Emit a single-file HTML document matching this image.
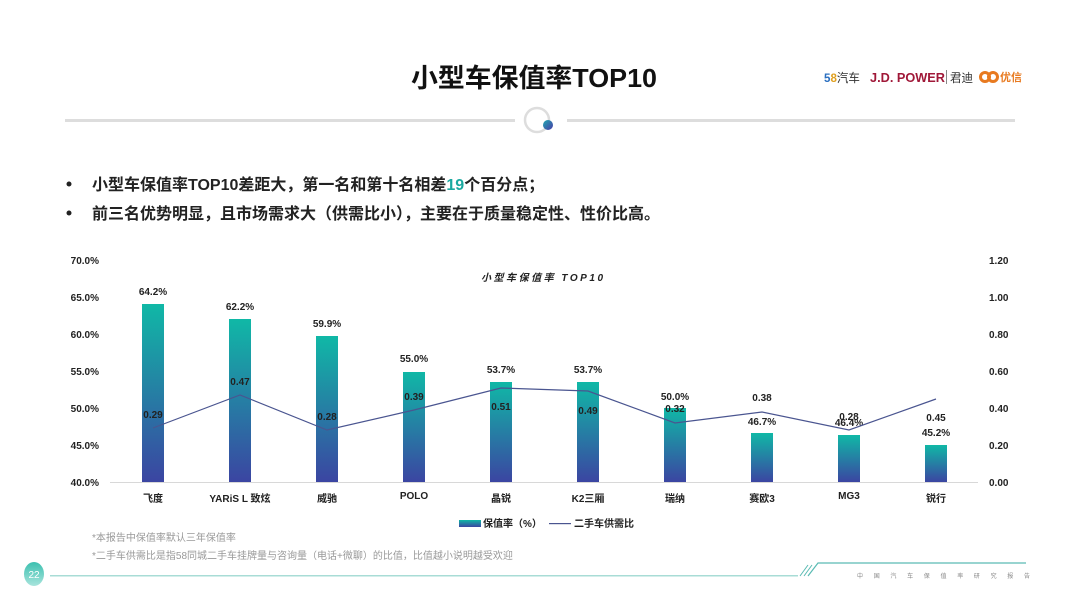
<!DOCTYPE html>
<html><head><meta charset="utf-8">
<style>
html,body{margin:0;padding:0;background:#fff;}
body{width:1080px;height:607px;overflow:hidden;position:relative;font-family:"Liberation Sans","Noto Sans CJK SC",sans-serif;}
</style></head><body>
<svg width="1080" height="607" viewBox="0 0 1080 607" xmlns="http://www.w3.org/2000/svg" style="position:absolute;left:0;top:0" font-family="Liberation Sans, Noto Sans CJK SC, sans-serif">
<defs>
<linearGradient id="bg" x1="0" y1="0" x2="0" y2="1">
<stop offset="0" stop-color="#10b8a6"/><stop offset="1" stop-color="#3b45a2"/>
</linearGradient>
<linearGradient id="dot" x1="0" y1="0" x2="1" y2="1">
<stop offset="0" stop-color="#1fa8b0"/><stop offset="1" stop-color="#4a3aa8"/>
</linearGradient>
<linearGradient id="pg" x1="0" y1="0" x2="0" y2="1">
<stop offset="0" stop-color="#3cc0b0"/><stop offset="1" stop-color="#a8e4dc"/>
</linearGradient>
</defs>
<text x="534" y="87" text-anchor="middle" font-size="26" font-weight="bold" fill="#111" textLength="246" lengthAdjust="spacingAndGlyphs">小型车保值率TOP10</text>
<text x="824" y="82" font-size="12" font-weight="bold" fill="#2a6fc0" textLength="36" lengthAdjust="spacingAndGlyphs">5<tspan fill="#e0a020">8</tspan><tspan fill="#333" font-weight="normal">汽车</tspan></text>
<text x="870" y="82" font-size="13" font-weight="bold" fill="#a01838" textLength="75" lengthAdjust="spacingAndGlyphs">J.D. POWER</text>
<rect x="946" y="70" width="1" height="14" fill="#888"/>
<text x="950" y="82" font-size="12" fill="#333" textLength="23" lengthAdjust="spacingAndGlyphs">君迪</text>
<circle cx="985" cy="77" r="4.5" fill="none" stroke="#e87a20" stroke-width="3"/>
<circle cx="993" cy="77" r="4.5" fill="none" stroke="#e87a20" stroke-width="3"/>
<text x="1000" y="81" font-size="11" font-weight="bold" fill="#e87a20">优信</text>
<rect x="65" y="119" width="450" height="3" fill="#ddd"/>
<rect x="567" y="119" width="448" height="3" fill="#ddd"/>
<circle cx="537" cy="120" r="12" fill="none" stroke="#ddd" stroke-width="2.5"/>
<circle cx="548" cy="125" r="5" fill="url(#dot)"/>
<circle cx="69" cy="184" r="2.5" fill="#222"/>
<circle cx="69" cy="213" r="2.5" fill="#222"/>
<text x="92" y="190" font-size="16" font-weight="bold" fill="#222">小型车保值率TOP10差距大，第一名和第十名相差<tspan fill="#1aa9a0">19</tspan>个百分点；</text>
<text x="92" y="219" font-size="16" font-weight="bold" fill="#222">前三名优势明显，且市场需求大（供需比小），主要在于质量稳定性、性价比高。</text>
<text x="481" y="281" font-size="10" font-weight="bold" font-style="italic" fill="#222" textLength="122" lengthAdjust="spacing">小型车保值率 TOP10</text>
<g font-size="10" font-weight="bold" fill="#222" text-anchor="end">
<text x="99" y="264">70.0%</text><text x="99" y="301">65.0%</text><text x="99" y="338">60.0%</text>
<text x="99" y="375">55.0%</text><text x="99" y="412">50.0%</text><text x="99" y="449">45.0%</text><text x="99" y="486">40.0%</text>
</g>
<g font-size="10" font-weight="bold" fill="#222">
<text x="989" y="264">1.20</text><text x="989" y="301">1.00</text><text x="989" y="338">0.80</text>
<text x="989" y="375">0.60</text><text x="989" y="412">0.40</text><text x="989" y="449">0.20</text><text x="989" y="486">0.00</text>
</g>
<rect x="110" y="482" width="868" height="1" fill="#d8d8d8"/>
<g fill="url(#bg)">
<rect x="142" y="304" width="22" height="178"/>
<rect x="229" y="319" width="22" height="163"/>
<rect x="316" y="336" width="22" height="146"/>
<rect x="403" y="372" width="22" height="110"/>
<rect x="490" y="382" width="22" height="100"/>
<rect x="577" y="382" width="22" height="100"/>
<rect x="664" y="408" width="22" height="74"/>
<rect x="751" y="433" width="22" height="49"/>
<rect x="838" y="435" width="22" height="47"/>
<rect x="925" y="445" width="22" height="37"/>
</g>
<g font-size="10" font-weight="bold" fill="#222" text-anchor="middle">
<text x="153" y="295">64.2%</text><text x="240" y="310">62.2%</text><text x="327" y="327">59.9%</text>
<text x="414" y="362">55.0%</text><text x="501" y="373">53.7%</text><text x="588" y="373">53.7%</text>
<text x="675" y="400">50.0%</text><text x="762" y="425">46.7%</text><text x="849" y="426">46.4%</text><text x="936" y="436">45.2%</text>
</g>
<polyline fill="none" stroke="#4a5590" stroke-width="1.2" points="153,428 240,395 327,430 414,410 501,388 588,391 675,423 762,412 849,430 936,399"/>
<g font-size="10" font-weight="bold" fill="#222" text-anchor="middle">
<text x="153" y="418">0.29</text><text x="240" y="385">0.47</text><text x="327" y="420">0.28</text>
<text x="414" y="400">0.39</text><text x="501" y="410">0.51</text><text x="588" y="414">0.49</text>
<text x="675" y="412">0.32</text><text x="762" y="401">0.38</text><text x="849" y="420">0.28</text><text x="936" y="421">0.45</text>
</g>
<g font-size="10" font-weight="bold" fill="#222" text-anchor="middle">
<text x="153" y="502">飞度</text><text x="240" y="502">YARiS L 致炫</text><text x="327" y="502">威驰</text>
<text x="414" y="499">POLO</text><text x="501" y="502">晶锐</text><text x="588" y="502">K2三厢</text>
<text x="675" y="502">瑞纳</text><text x="762" y="502">赛欧3</text><text x="849" y="499">MG3</text><text x="936" y="502">锐行</text>
</g>
<rect x="459" y="520" width="22" height="7" fill="url(#bg)"/>
<text x="483" y="527" font-size="10" font-weight="bold" fill="#222">保值率（%）</text>
<rect x="549" y="523" width="22" height="1.2" fill="#4a5590"/>
<text x="574" y="527" font-size="10" font-weight="bold" fill="#222">二手车供需比</text>
<text x="92" y="541" font-size="10" fill="#999">*本报告中保值率默认三年保值率</text>
<text x="92" y="559" font-size="10" fill="#999">*二手车供需比是指58同城二手车挂牌量与咨询量（电话+微聊）的比值，比值越小说明越受欢迎</text>
<ellipse cx="34" cy="574" rx="10" ry="12" fill="url(#pg)"/>
<text x="34" y="578" font-size="10" fill="#fff" text-anchor="middle">22</text>
<rect x="50" y="575" width="748" height="1.5" fill="#a8dcd6"/>
<line x1="800" y1="576" x2="808" y2="565" stroke="#5abbb3" stroke-width="1"/>
<line x1="804" y1="576" x2="812" y2="565" stroke="#5abbb3" stroke-width="1"/>
<polyline points="808,576 818,563 1026,563" fill="none" stroke="#5abbb3" stroke-width="1.2"/>
<text x="857" y="578" font-size="6" fill="#888" textLength="173" lengthAdjust="spacing">中国汽车保值率研究报告</text>
</svg>
</body></html>
